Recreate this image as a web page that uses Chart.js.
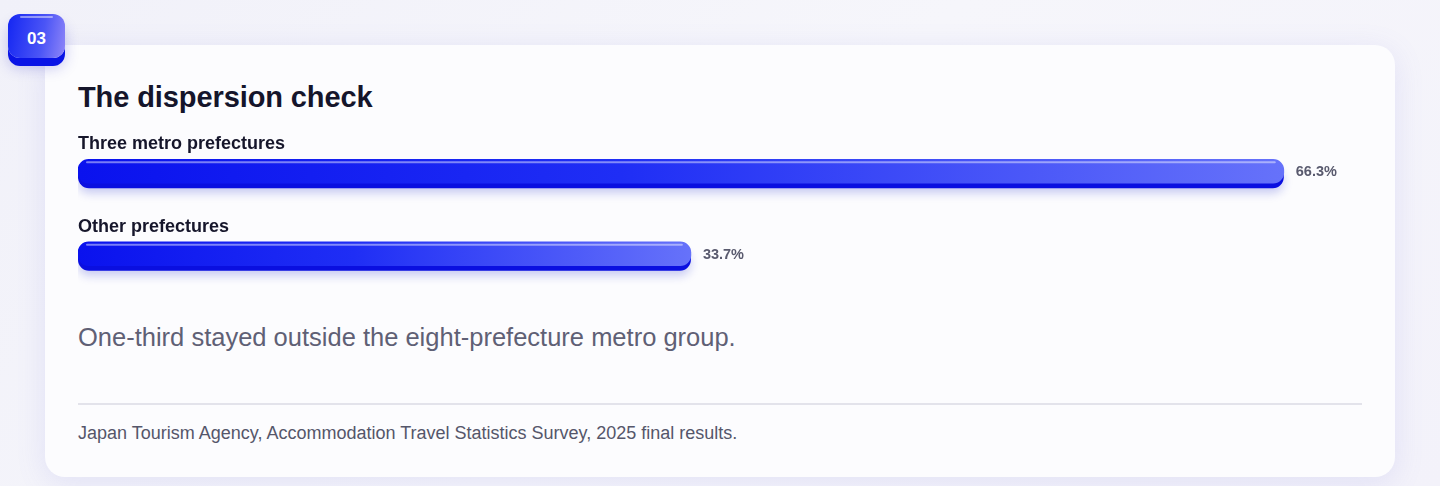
<!DOCTYPE html>
<html>
<head>
<meta charset="utf-8">
<script src="https://cdn.jsdelivr.net/npm/chart.js@4"></script>
<style>
  html, body { margin: 0; padding: 0; }
  body {
    width: 1440px; height: 486px; overflow: hidden; position: relative;
    background: linear-gradient(135deg, #f1f1f9 0%, #f6f6fb 50%, #f3f2fa 100%);
    font-family: "Liberation Sans", Arial, Helvetica, sans-serif;
  }
  .badge {
    position: absolute; left: 8px; top: 14px; width: 57px; height: 44px;
    border-radius: 12px;
    background: linear-gradient(100deg, #1426f2 0%, #4b55f6 60%, #8f86f8 100%);
    box-shadow: 0 8px 0 #0a14e6, 0 10px 14px rgba(40, 40, 200, 0.25);
    color: #fff; font-weight: bold; font-size: 17px;
    display: flex; align-items: center; justify-content: center;
    box-sizing: border-box; padding-top: 5px;
  }
  .badge::before {
    content: ""; position: absolute; left: 12px; right: 12px; top: 2px; height: 2px;
    border-radius: 2px; background: rgba(255,255,255,0.45);
  }
  .card {
    position: absolute; left: 45px; top: 45px; width: 1350px; height: 432px;
    border-radius: 20px; background: #fcfcfe;
    box-shadow: 0 6px 30px rgba(110, 110, 220, 0.14);
  }
  .title {
    position: absolute; left: 78px; top: 81px; margin: 0;
    font-size: 29px; font-weight: bold; color: #15152b; letter-spacing: -0.1px;
  }
  .note {
    position: absolute; left: 78px; top: 323px; margin: 0;
    font-size: 25.5px; color: #5f6075;
  }
  .rule {
    position: absolute; left: 78px; top: 403px; width: 1284px; height: 2px;
    background: #e3e3eb;
  }
  .source {
    position: absolute; left: 78px; top: 423px; margin: 0;
    font-size: 18px; color: #55566a;
  }
  #wrap { position: absolute; left: 78px; top: 120px; width: 1284px; height: 175px; }
</style>
</head>
<body>
<div class="card"></div>
<div class="badge">03</div>
<h2 class="title">The dispersion check</h2>
<div id="wrap"><canvas id="bars"></canvas></div>
<p class="note">One-third stayed outside the eight-prefecture metro group.</p>
<div class="rule"></div>
<p class="source">Japan Tourism Agency, Accommodation Travel Statistics Survey, 2025 final results.</p>

<script>
const categories = ['Three metro prefectures', 'Other prefectures'];
const shares = [66.3, 33.7];
const valueLabels = ['66.3%', '33.7%'];

function roundRect(ctx, x, y, w, h, r) {
    r = Math.min(r, h / 2, w / 2);
    ctx.beginPath();
    ctx.moveTo(x + r, y);
    ctx.lineTo(x + w - r, y);
    ctx.arcTo(x + w, y, x + w, y + r, r);
    ctx.lineTo(x + w, y + h - r);
    ctx.arcTo(x + w, y + h, x + w - r, y + h, r);
    ctx.lineTo(x + r, y + h);
    ctx.arcTo(x, y + h, x, y + h - r, r);
    ctx.lineTo(x, y + r);
    ctx.arcTo(x, y, x + r, y, r);
    ctx.closePath();
}

// dark lip underneath each bar
const barBase = {
    id: 'barBase',
    beforeDatasetsDraw(chart) {
        const ctx = chart.ctx;
        chart.getDatasetMeta(0).data.forEach(bar => {
            const x = bar.base, w = bar.x - bar.base, h = bar.height, y = bar.y - h / 2;
            ctx.save();
            ctx.shadowColor = 'rgba(20, 30, 200, 0.22)';
            ctx.shadowBlur = 10;
            ctx.shadowOffsetY = 5;
            ctx.fillStyle = '#0a0fe0';
            roundRect(ctx, x, y + 5, w, h, 11);
            ctx.fill();
            ctx.restore();
        });
    }
};

// highlight line, category names above and values at the right
const barText = {
    id: 'barText',
    afterDatasetsDraw(chart) {
        const ctx = chart.ctx;
        chart.getDatasetMeta(0).data.forEach((bar, i) => {
            const h = bar.height, top = bar.y - h / 2;
            ctx.save();
            ctx.strokeStyle = 'rgba(255,255,255,0.45)';
            ctx.lineWidth = 2;
            ctx.lineCap = 'round';
            ctx.beginPath();
            ctx.moveTo(bar.base + 9, top + 3);
            ctx.lineTo(bar.x - 9, top + 3);
            ctx.stroke();

            ctx.fillStyle = '#16162b';
            ctx.font = 'bold 18px "Liberation Sans", Arial, sans-serif';
            ctx.textBaseline = 'middle';
            ctx.textAlign = 'left';
            ctx.fillText(categories[i], bar.base, top - 15);

            ctx.fillStyle = '#595a6e';
            ctx.font = 'bold 14.5px "Liberation Sans", Arial, sans-serif';
            ctx.fillText(valueLabels[i], bar.x + 12, bar.y + 1);
            ctx.restore();
        });
    }
};

const ctx = document.getElementById('bars').getContext('2d');
new Chart(ctx, {
    type: 'bar',
    data: {
        labels: categories,
        datasets: [{
            data: shares,
            barThickness: 24,
            borderRadius: 11,
            borderSkipped: false,
            backgroundColor(context) {
                const chart = context.chart;
                const area = chart.chartArea;
                if (!area || !chart.scales.x) return '#1020f0';
                const x1 = chart.scales.x.getPixelForValue(context.raw);
                const g = chart.ctx.createLinearGradient(area.left, 0, x1, 0);
                g.addColorStop(0, '#0a12ee');
                g.addColorStop(0.45, '#1f2ef5');
                g.addColorStop(1, '#6672fa');
                return g;
            }
        }]
    },
    options: {
        indexAxis: 'y',
        responsive: true,
        maintainAspectRatio: false,
        animation: false,
        layout: { padding: { top: 10, bottom: 0, left: 0, right: 0 } },
        scales: {
            x: { display: false, min: 0, max: 70.6 },
            y: { display: false }
        },
        plugins: { legend: { display: false }, tooltip: { enabled: false } }
    },
    plugins: [barBase, barText]
});
</script>
</body>
</html>
